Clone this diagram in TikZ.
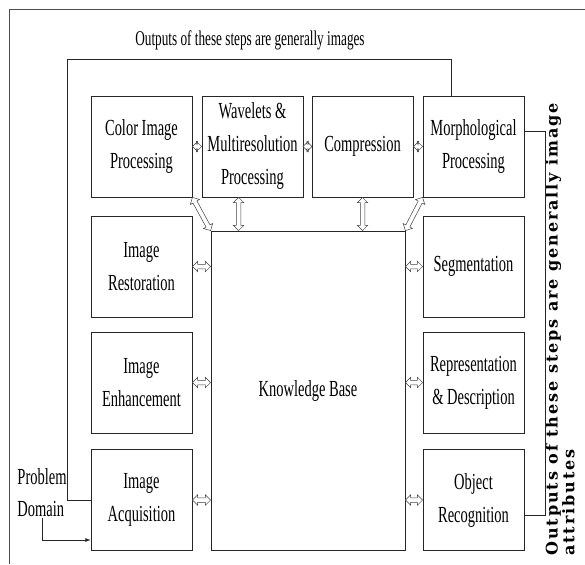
\documentclass[tikz,border=0pt]{standalone}
\usepackage{fontspec}
\setmainfont[FakeStretch=0.63]{Liberation Serif}
\newfontfamily\sidefont[LetterSpace=12]{DejaVu Serif}
\usetikzlibrary{arrows.meta, shapes.arrows, calc}
\begin{document}
\begin{tikzpicture}[x=1pt, y=-1pt, >=latex, line width=.8pt,
  box/.style={draw=black!85, minimum width=101pt, minimum height=101pt, inner sep=0pt, align=center, font=\fontsize{23}{33}\selectfont},
  darrow/.style={double arrow, draw=black!75, line width=.5pt, fill=white, inner sep=2pt, double arrow head extend=3pt, double arrow head indent=0pt},
  dbl/.style={to path={let \p1=(\tikztostart), \p2=(\tikztotarget), \n1={veclen(\x2-\x1,\y2-\y1)}, \n2={atan2(\y2-\y1,\x2-\x1)} in node[darrow, minimum height=\n1, rotate=\n2] at ($(\p1)!.5!(\p2)$) {}}}]
\useasboundingbox (0,0) rectangle (585,564);
\draw[black!70] (585,9)--(9,9)--(9,564);
\node[font=\fontsize{21}{24}\selectfont] (topnote) at (250,40) {Outputs of these steps are generally images};
% top row
\node[box] (color) at (141.5,146.5) {Color Image\\Processing};
\node[box] (wavelet) at (252.5,146.5) {Wavelets \&\\Multiresolution\\Processing};
\node[box] (compress) at (362.5,146.5) {Compression};
\node[box] (morph) at (473.5,146.5) {Morphological\\Processing};
% left column
\node[box] (restore) at (141.5,266.5) {Image\\Restoration};
\node[box] (enhance) at (141.5,382.5) {Image\\Enhancement};
\node[box] (acquire) at (141.5,500) {Image\\Acquisition};
% right column
\node[box] (segment) at (473.5,266.5) {Segmentation};
\node[box] (represent) at (473.5,382.5) {Representation\\\& Description};
\node[box] (recog) at (473.5,500) {Object\\Recognition};
\node[box, minimum width=194pt, minimum height=319pt] (kb) at (308,390.5) {Knowledge Base};
\node[align=left, inner sep=1pt, font=\fontsize{23}{32}\selectfont] (problem) at (42,493) {Problem\\Domain};
\node[rotate=90, anchor=north west, align=left, inner sep=0pt, font=\sidefont\bfseries\fontsize{16}{15}\selectfont] (sidenote) at (545,556) {Outputs of these steps are generally image\\attributes};

\path (color.east) to[dbl] (wavelet.west);
\path (wavelet.east) to[dbl] (compress.west);
\path (compress.east) to[dbl] (morph.west);
\path (color.south east) to[dbl] (kb.north west);
\path (morph.south west) to[dbl] (kb.north east);
\path ([xshift=-14pt]wavelet.south) to[dbl] ([xshift=-14pt]wavelet.south |- kb.north);
\path (compress.south) to[dbl] (compress.south |- kb.north);
\foreach \b in {restore,enhance,acquire}
{
    \path (\b.east) to[dbl] (\b -| kb.west);
}
\foreach \b in {segment,represent,recog}
{
    \path (\b -| kb.east) to[dbl] (\b.west);
}

\draw[black!85] ([xshift=-22pt]morph.north) |- (67,59) |- (acquire.west);
\draw[black!85] ([yshift=15pt]morph.east) -- ++(21,0) |- ([yshift=-15pt]recog.east);
\draw[->, black!85] (problem.south) |- ([yshift=-40pt]acquire.west);
\end{tikzpicture}
\end{document}
